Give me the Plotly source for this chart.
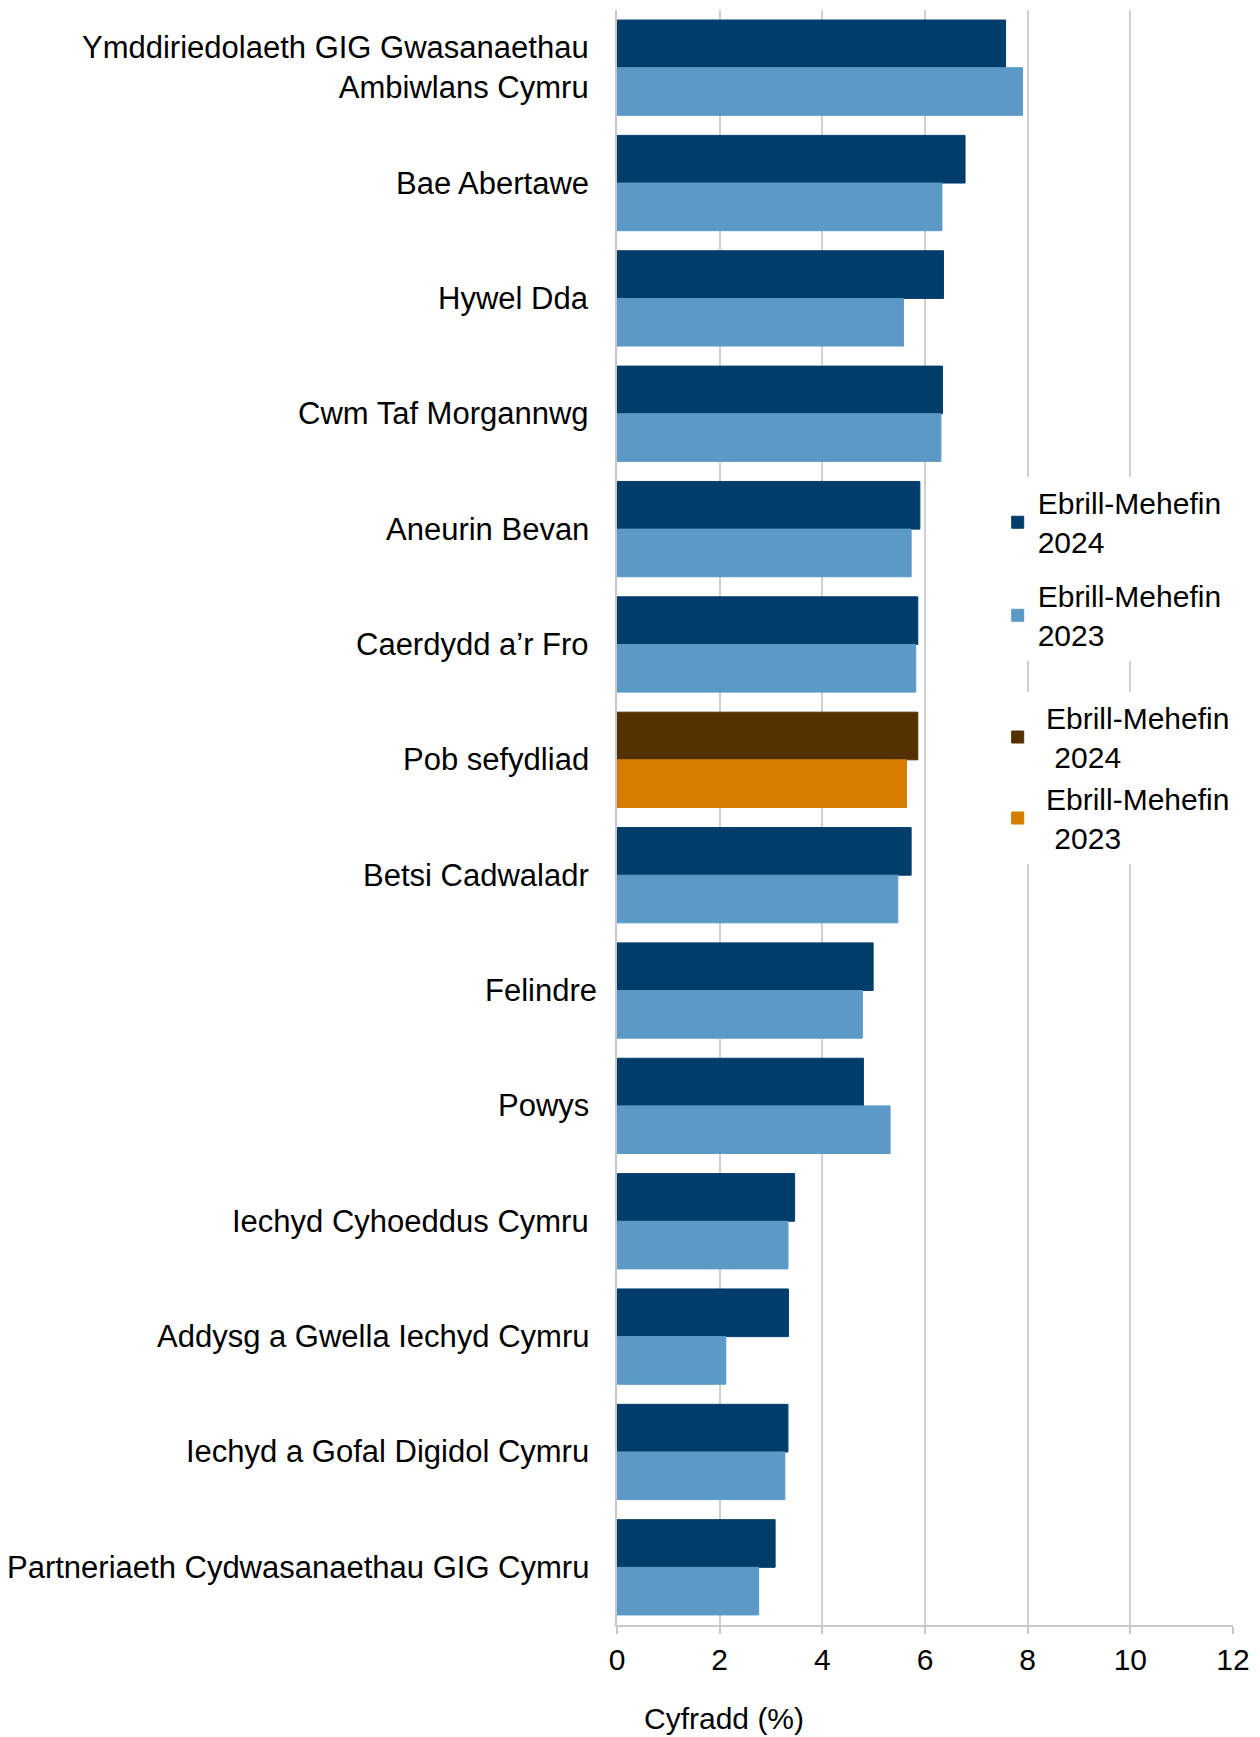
import plotly.graph_objects as go

categories = [
    "Ymddiriedolaeth GIG Gwasanaethau<br>Ambiwlans Cymru",
    "Bae Abertawe",
    "Hywel Dda",
    "Cwm Taf Morgannwg",
    "Aneurin Bevan",
    "Caerdydd a\u2019r Fro",
    "Pob sefydliad",
    "Betsi Cadwaladr",
    "Felindre",
    "Powys",
    "Iechyd Cyhoeddus Cymru",
    "Addysg a Gwella Iechyd Cymru",
    "Iechyd a Gofal Digidol Cymru",
    "Partneriaeth Cydwasanaethau GIG Cymru",
]
values_2024 = [7.57, 6.78, 6.36, 6.34, 5.90, 5.86, 5.86, 5.73, 4.99, 4.80, 3.46, 3.34, 3.33, 3.08]
values_2023 = [7.90, 6.33, 5.58, 6.31, 5.73, 5.82, 5.64, 5.47, 4.78, 5.32, 3.33, 2.12, 3.27, 2.76]
all_org = "Pob sefydliad"
x_ticks = [0, 2, 4, 6, 8, 10, 12]

FONT = "Liberation Sans, Arial, sans-serif"
C24 = "#003D6B"
C23 = "#5B9AC7"
C24_ALL = "#553100"
C23_ALL = "#D67D00"
W = 0.413

v24_org = [None if c == all_org else v for c, v in zip(categories, values_2024)]
v23_org = [None if c == all_org else v for c, v in zip(categories, values_2023)]
v24_all = [v if c == all_org else None for c, v in zip(categories, values_2024)]
v23_all = [v if c == all_org else None for c, v in zip(categories, values_2023)]

fig = go.Figure()
fig.add_trace(go.Bar(y=categories, x=v24_org, orientation="h", name="Ebrill-Mehefin<br>2024",
                     marker=dict(color=C24, line=dict(width=1, color=C24)), width=W, offset=-W,
                     legend="legend", legendgroup="a"))
fig.add_trace(go.Bar(y=categories, x=v23_org, orientation="h", name="Ebrill-Mehefin<br>2023",
                     marker=dict(color=C23, line=dict(width=1, color=C23)), width=W, offset=0,
                     legend="legend", legendgroup="b"))
fig.add_trace(go.Bar(y=categories, x=v24_all, orientation="h",
                     name="\u00a0Ebrill-Mehefin<br>\u00a0\u00a02024",
                     marker=dict(color=C24_ALL, line=dict(width=1, color=C24_ALL)), width=W, offset=-W,
                     legend="legend2", legendgroup="c"))
fig.add_trace(go.Bar(y=categories, x=v23_all, orientation="h",
                     name="\u00a0Ebrill-Mehefin<br>\u00a0\u00a02023",
                     marker=dict(color=C23_ALL, line=dict(width=1, color=C23_ALL)), width=W, offset=0,
                     legend="legend2", legendgroup="d"))

annotations = []
for c in categories:
    xpos = -0.0285 if c == "Felindre" else -0.0425
    annotations.append(dict(x=xpos, xref="paper", y=c, yref="y", text=c, showarrow=False,
                            xanchor="right", yanchor="middle", align="right",
                            font=dict(family=FONT, size=31, color="#000000")))
annotations.append(dict(x=0.173, xref="paper", y=-0.058, yref="paper", text="Cyfradd (%)",
                        showarrow=False, xanchor="center", yanchor="middle",
                        font=dict(family=FONT, size=30, color="#000000")))

fig.update_layout(
    width=1260, height=1737,
    margin=dict(l=609, r=35, t=2, b=120),
    plot_bgcolor="white", paper_bgcolor="white",
    barmode="overlay",
    font=dict(family=FONT, size=30, color="#000000"),
    annotations=annotations,
    legend=dict(x=0.618, y=0.711, xanchor="left", yanchor="top", bgcolor="white",
                font=dict(family=FONT, size=30, color="#000000"), tracegroupgap=12,
                itemclick=False),
    legend2=dict(x=0.618, y=0.578, xanchor="left", yanchor="top", bgcolor="white",
                 font=dict(family=FONT, size=30, color="#000000"), tracegroupgap=0,
                 itemclick=False),
    xaxis=dict(range=[0, 12], tickvals=x_ticks, ticktext=[str(t) for t in x_ticks],
               showgrid=True, gridcolor="#D0D0D0", gridwidth=1.5,
               showline=True, linecolor="#C8C8C8", linewidth=1.5,
               ticks="outside", ticklen=7, tickcolor="#C8C8C8", tickwidth=1.5,
               ticklabelstandoff=0, zeroline=False,
               tickfont=dict(family=FONT, size=30, color="#000000")),
    yaxis=dict(autorange="reversed", showticklabels=False, showgrid=False,
               showline=True, linecolor="#C8C8C8", linewidth=1.5, ticks=""),
)

fig.write_html("out.html")
